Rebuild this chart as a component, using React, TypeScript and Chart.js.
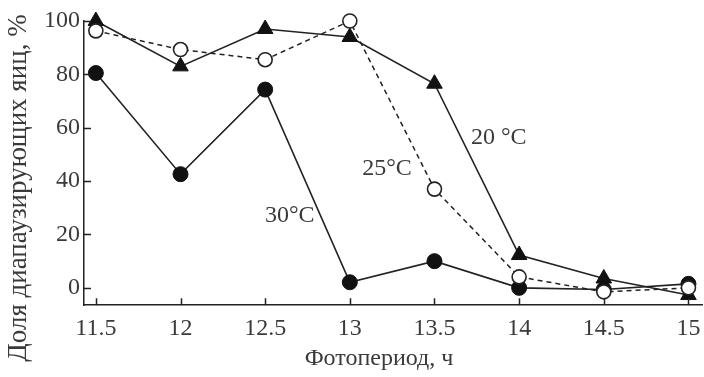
import React, { useEffect, useRef } from "react";
import { Chart, registerables } from "chart.js";

Chart.register(...registerables);

const photoperiod = [11.5, 12, 12.5, 13, 13.5, 14, 14.5, 15];
const t20 = [100, 83, 97, 94, 76.5, 12.3, 3.5, -2.7];
const t25 = [96.3, 89.3, 85.5, 100, 37, 4.1, -1.5, 0];
const t30 = [80.5, 42.6, 74.3, 2.1, 10, 0, -0.6, 1.5];
const xTicks = [11.5, 12, 12.5, 13, 13.5, 14, 14.5, 15];
const yTicks = [0, 20, 40, 60, 80, 100];
const xTitle = "Фотопериод, ч";
const yTitle = "Доля диапаузирующих яиц, %";
const seriesLabels = [
  { text: "20 °C", x: 13.88, y: 56.4 },
  { text: "25°C", x: 13.22, y: 44.8 },
  { text: "30°C", x: 12.645, y: 27.2 },
];

const FONT = "'Liberation Serif', 'Times New Roman', serif";
const INK = "#222222";
const TEXT = "#3a3a3a";

const overlay = {
  id: "overlay",
  afterDraw(chart: any) {
    const { ctx, chartArea } = chart;
    const xs = chart.scales.x;
    const ys = chart.scales.y;
    ctx.save();
    ctx.strokeStyle = INK;
    ctx.lineWidth = 1.5;
    ctx.beginPath();
    for (const v of xTicks) {
      const px = Math.round(xs.getPixelForValue(v)) + 0.5;
      ctx.moveTo(px, chartArea.bottom);
      ctx.lineTo(px, chartArea.bottom - 7);
    }
    for (const v of yTicks) {
      const py = Math.round(ys.getPixelForValue(v)) + 0.5;
      ctx.moveTo(chartArea.left, py);
      ctx.lineTo(chartArea.left + 7, py);
    }
    ctx.stroke();

    ctx.fillStyle = TEXT;
    ctx.textAlign = "center";
    ctx.textBaseline = "middle";
    ctx.font = `24px ${FONT}`;
    ctx.fillText(xTitle, 379, 359);

    ctx.save();
    ctx.translate(19, 188);
    ctx.rotate(-Math.PI / 2);
    ctx.font = `27px ${FONT}`;
    ctx.fillText(yTitle, 0, 0);
    ctx.restore();

    ctx.font = `24px ${FONT}`;
    for (const l of seriesLabels) {
      ctx.fillText(l.text, xs.getPixelForValue(l.x), ys.getPixelForValue(l.y));
    }
    ctx.restore();
  },
};

export default function App() {
  const ref = useRef<HTMLCanvasElement>(null);
  useEffect(() => {
    document.body.style.margin = "0";
    const canvas = ref.current!;
    const chart = new Chart(canvas, {
      type: "line",
      data: {
        datasets: [
          {
            label: "25°C",
            data: photoperiod.map((x, i) => ({ x, y: t25[i] })),
            borderColor: INK,
            borderWidth: 1.5,
            borderDash: [5, 4],
            pointStyle: "circle",
            pointRadius: 7,
            pointBorderWidth: 1.6,
            pointBackgroundColor: "#ffffff",
            pointBorderColor: INK,
            order: 0,
          },
          {
            label: "20°C",
            data: photoperiod.map((x, i) => ({ x, y: t20[i] })),
            borderColor: INK,
            borderWidth: 1.6,
            pointStyle: "triangle",
            pointRadius: 9,
            pointBorderWidth: 1,
            pointBackgroundColor: "#111111",
            pointBorderColor: "#111111",
            order: 1,
          },
          {
            label: "30°C",
            data: photoperiod.map((x, i) => ({ x, y: t30[i] })),
            borderColor: INK,
            borderWidth: 1.6,
            pointStyle: "circle",
            pointRadius: 7.5,
            pointBorderWidth: 1,
            pointBackgroundColor: "#111111",
            pointBorderColor: "#111111",
            order: 2,
          },
        ],
      },
      options: {
        animation: false,
        responsive: false,
        devicePixelRatio: 1,
        clip: false as any,
        layout: { autoPadding: false, padding: { left: 40, right: 2, top: 21, bottom: 25 } },
        plugins: { legend: { display: false }, tooltip: { enabled: false } },
        elements: { line: { tension: 0 } },
        scales: {
          x: {
            type: "linear",
            min: 11.43,
            max: 15.08,
            afterBuildTicks: (s: any) => {
              s.ticks = xTicks.map((v) => ({ value: v }));
            },
            afterFit: (s: any) => {
              s.paddingLeft = 0;
              s.paddingRight = 0;
            },
            ticks: {
              padding: 9,
              color: TEXT,
              font: { family: FONT, size: 24 },
              callback: (v: any) => String(v),
              maxRotation: 0,
              autoSkip: false,
            },
            grid: { display: false, drawTicks: false },
            border: { display: true, color: INK, width: 1.5 },
          },
          y: {
            type: "linear",
            min: -6.5,
            max: 100,
            afterBuildTicks: (s: any) => {
              s.ticks = yTicks.map((v) => ({ value: v }));
            },
            afterFit: (s: any) => {
              s.paddingTop = 0;
              s.paddingBottom = 0;
            },
            ticks: {
              padding: 4,
              color: TEXT,
              font: { family: FONT, size: 24 },
              callback: (v: any) => String(v),
            },
            grid: { display: false, drawTicks: false },
            border: { display: true, color: INK, width: 1.5 },
          },
        },
      },
      plugins: [overlay],
    });
    return () => chart.destroy();
  }, []);
  return <canvas ref={ref} width={704} height={377} style={{ display: "block" }} />;
}
